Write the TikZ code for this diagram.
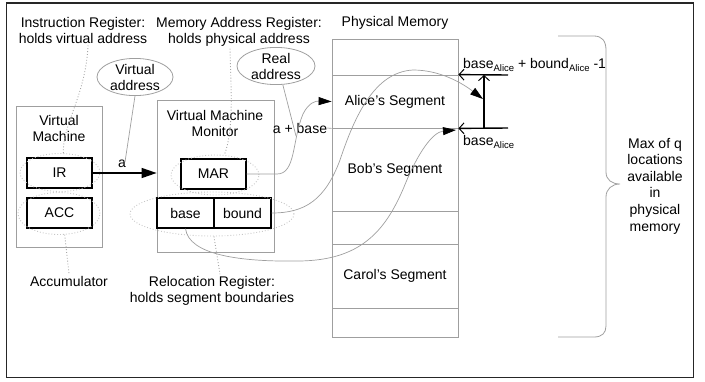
\documentclass[tikz,border=0pt]{standalone}
\usepackage{fontspec}
\setmainfont{Liberation Sans}
\usetikzlibrary{arrows.meta,shapes.geometric}
\newcommand{\subA}{\raisebox{-2.5pt}{\fontsize{9.5}{10}\selectfont Alice}}
\begin{document}
\begin{tikzpicture}[x=1pt,y=-1pt,
  font=\fontsize{14}{16}\selectfont,
  every node/.style={inner sep=0pt},
  greybox/.style={draw=gray!75, line width=0.8pt},
  regbox/.style={draw=black, line width=1.4pt, minimum height=30pt},
  memseg/.style={draw=gray!75, line width=0.8pt, minimum width=126pt},
  dotell/.style={ellipse, draw=gray!45, dotted, line width=0.9pt},
  callout/.style={ellipse, draw=gray!75, line width=0.8pt, align=center},
  dotlink/.style={draw=gray!70, dotted, line width=0.9pt},
  thinlink/.style={draw=gray!75, line width=0.7pt},
  curvearrow/.style={draw=gray!75, line width=0.7pt, -{Triangle[length=13pt,width=8pt,fill=black,color=black]}},
  ptr/.style={draw=black, line width=1.4pt, -{Straight Barb[length=5pt,width=11pt,line width=1pt]}}
]
\useasboundingbox (0,0) rectangle (705,381);
\draw[draw=gray!30!black, line width=1.3pt] (6.5,3) rectangle (693.5,377.5);

% top labels
\node[align=center] (txtIR) at (83,30) {Instruction Register:\\holds virtual address};
\node[align=center] (txtMAR) at (239,32) {Memory Address Register:\\holds physical address};
\node (txtPM) at (395,23) {Physical Memory};

% Virtual machine
\node[greybox, minimum width=86pt, minimum height=141pt] (vm) at (59,176.5) {};
\node[align=center] (vmlabel) at (59,128) {Virtual\\Machine};
\node[regbox, minimum width=65pt] (ir) at (59.5,173) {IR};
\node[regbox, minimum width=65pt] (acc) at (59.5,213) {ACC};
\node[dotell, minimum width=80pt, minimum height=38pt] (irell) at (60,172.5) {};
\node[dotell, minimum width=82pt, minimum height=42pt] (accell) at (59,213.5) {};
\node (txtAcc) at (69,281) {Accumulator};

% VMM
\node[greybox, minimum width=117pt, minimum height=152pt] (vmm) at (215.5,176) {};
\node[align=center] (vmmlabel) at (215,123) {Virtual Machine\\Monitor};
\node[regbox, minimum width=65pt] (mar) at (213.5,174) {MAR};
\node[regbox, minimum width=57pt] (base) at (185.5,213) {base};
\node[regbox, minimum width=57pt] (bound) at (242.5,213) {bound};
\node[dotell, minimum width=88pt, minimum height=40pt] (marell) at (215,175) {};
\node[dotell, minimum width=164pt, minimum height=44pt] (relell) at (212,214) {};
\node[align=center] (txtRel) at (212,291) {Relocation Register:\\holds segment boundaries};

% callouts
\node[callout, minimum width=76pt, minimum height=36pt] (vaell) at (135,77) {Virtual\\address};
\node[callout, minimum width=78pt, minimum height=34pt] (raell) at (276,66) {Real\\address};
\node (alabel) at (122,164) {a};
\node (apb) at (300,128) {a + base};

% memory
\node[memseg, minimum height=36pt] (seg0) at (395,57) {};
\node[memseg, minimum height=53pt] (alice) at (395,101.5) {Alice’s Segment};
\node[memseg, minimum height=83pt] (bob) at (395,169.5) {Bob’s Segment};
\node[memseg, minimum height=33pt] (seg3) at (395,227.5) {};
\node[memseg, minimum height=64pt] (carol) at (395,276) {Carol’s Segment};
\node[memseg, minimum height=29pt] (seg5) at (395,322.5) {};

% pointers at right of memory
\coordinate (topR) at (508,75);
\coordinate (botR) at (508,128);
\coordinate (vbot) at (484,128);
\coordinate (vtop) at (484,75);
\coordinate (lenpt) at (483,99);
\coordinate (basept) at (456,130);
\draw[ptr] (topR) -- (alice.north east);
\draw[ptr] (botR) -- (alice.south east);
\draw[ptr] (vbot) -- (vtop);
\node[anchor=west] (lblTop) at (463,65) {base\subA{} + bound\subA{} -1};
\node[anchor=west] (lblBot) at (463,142) {base\subA};

% brace
\draw[draw=gray!75, line width=0.8pt] (558,36) -- (594,36) .. controls (602,36) and (606,41) .. (606,50) -- (606,172)
  .. controls (606,180) and (612,184) .. (620,184) .. controls (612,184) and (606,189) .. (606,197)
  -- (606,326) .. controls (606,333) and (602,337) .. (594,337) -- (558,337);
\node[align=center, font=\fontsize{14}{16.6}\selectfont] (txtMax) at (655,186) {Max of q\\locations\\available\\in\\physical\\memory};

% connectors
\draw[draw=black, line width=1.4pt, -{Triangle[length=15pt,width=10pt]}] (ir.east) -- (ir.east -| vmm.west);
\draw[thinlink] (vaell.south) -- ([xshift=3pt,yshift=-2pt]alabel.north);
\draw[thinlink] (raell.-70) -- (296,136);
\draw[thinlink] (apb.east) -- (alice.south west);
\draw[curvearrow] (mar.east) -- (277,174) .. controls (296,174) and (292,140) .. (303,114) .. controls (309,102) and (316,101) .. (alice.west);
\draw[curvearrow] (bound.east) .. controls (305,213) and (325,200) .. (340,160) .. controls (355,115) and (375,72) .. (413,70) .. controls (440,70) and (462,83) .. (lenpt);
\draw[curvearrow] (base.south) .. controls (189,255) and (240,262) .. (300,261) .. controls (360,260) and (385,232) .. (404,187) .. controls (418,152) and (433,132) .. (basept);

% dotted links
\draw[dotlink] ([xshift=5pt,yshift=-2pt]txtIR.south) .. controls (86,95) and (62,125) .. (irell.80);
\draw[dotlink] ([xshift=-9pt,yshift=-2pt]txtMAR.south) .. controls (231,90) and (234,130) .. (marell.65);
\draw[dotlink] (accell.-75) -- ([yshift=2pt]txtAcc.north);
\draw[dotlink] (relell.-85) -- ([xshift=8pt,yshift=2pt]txtRel.north);
\end{tikzpicture}
\end{document}
